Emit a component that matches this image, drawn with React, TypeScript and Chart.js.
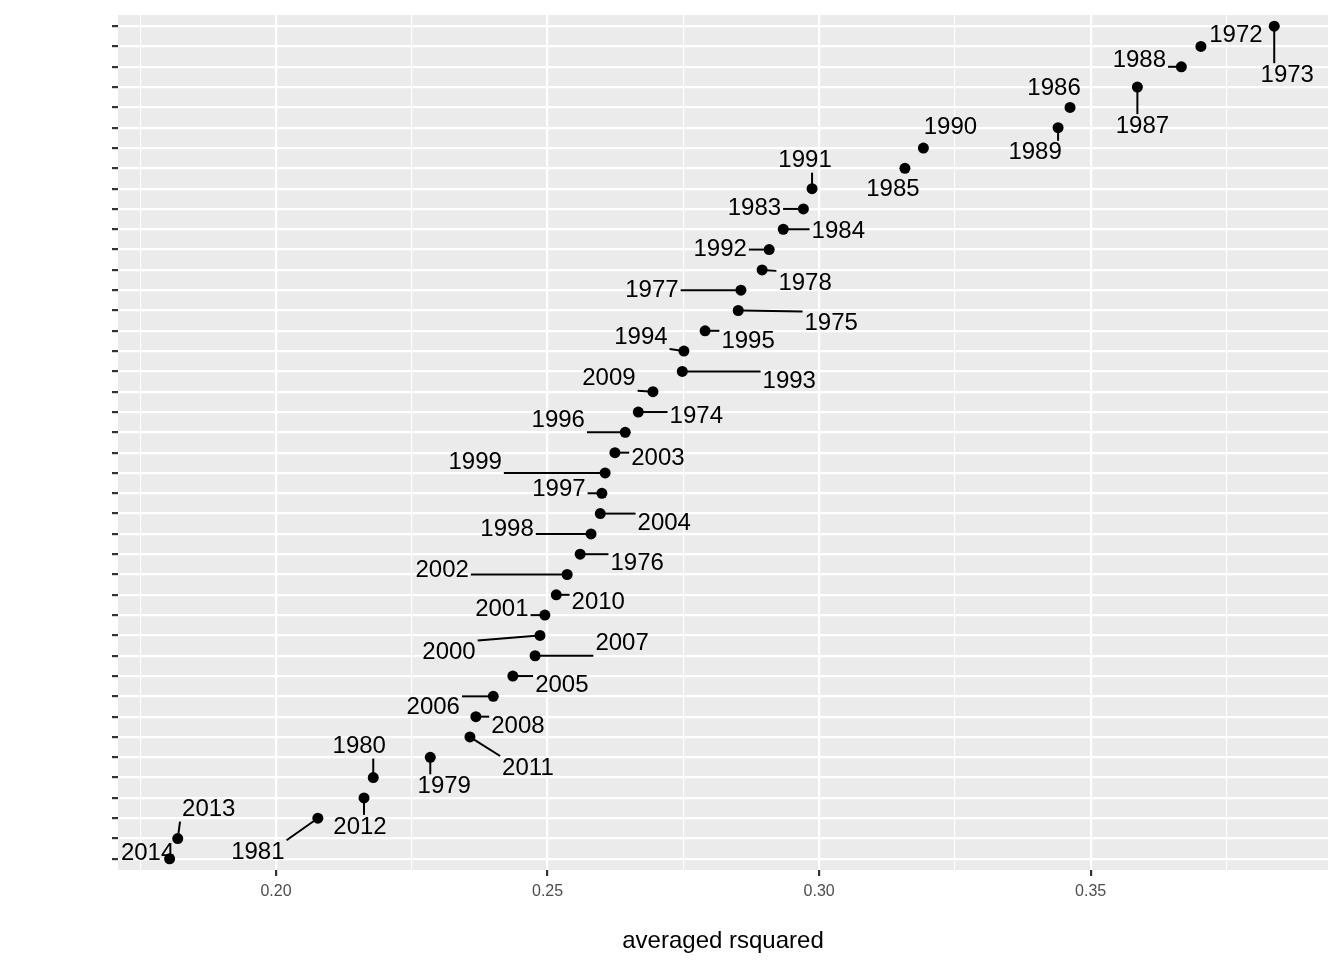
import React, { useRef, useEffect } from 'react';
import { Chart, registerables } from 'chart.js';

Chart.register(...registerables);

// top to bottom
const years = [
  '1973', '1972', '1988', '1987', '1986', '1989', '1990', '1985', '1991', '1983', '1984',
  '1992', '1978', '1977', '1975', '1995', '1994', '1993', '2009', '1974', '1996', '2003',
  '1999', '1997', '2004', '1998', '1976', '2002', '2010', '2001', '2000', '2007', '2005',
  '2006', '2008', '2011', '1979', '1980', '2012', '1981', '2013', '2014',
];
const rsquared = [
  0.3838, 0.3703, 0.3667, 0.3586, 0.3462, 0.344, 0.3192, 0.3158, 0.2987, 0.2971, 0.2934,
  0.2908, 0.2895, 0.2856, 0.2851, 0.279, 0.2751, 0.2748, 0.2694, 0.2667, 0.2643, 0.2624,
  0.2606, 0.26, 0.2597, 0.258, 0.256, 0.2536, 0.2516, 0.2495, 0.2486, 0.2477, 0.2436,
  0.24, 0.2368, 0.2357, 0.2284, 0.2179, 0.2162, 0.2077, 0.1819, 0.1804,
];
const xTicks = [0.175, 0.2, 0.225, 0.25, 0.275, 0.3, 0.325, 0.35, 0.375];
const xMajor = ['0.20', '0.25', '0.30', '0.35'];

// label placement (pixels from point), repel-style
const labelOffsets: [number, number][] = [
  [13, 49], [35, -11], [-42, -6], [5, 39], [-16, -19], [-23, 25], [27, -21], [-12, 21],
  [-7, -28], [-49, -1], [55, 2], [-49, 0], [43, 13], [-89, 0], [93, 13], [43, 11],
  [-43, -14], [107, 10], [-44, -13], [58, 4], [-67, -12], [43, 6], [-130, -11], [-43, -4],
  [64, 10], [-84, -5], [57, 9], [-125, -4], [42, 8], [-43, -6], [-91, 17], [87, -12],
  [49, 9], [-60, 11], [42, 10], [58, 31], [14, 29], [-14, -31], [-4, 29], [-60, 34],
  [31, -29], [-22, -5],
];

const n = years.length;

const labelPlugin = {
  id: 'repelLabels',
  afterDatasetsDraw(chart: any) {
    const ctx = chart.ctx;
    const meta = chart.getDatasetMeta(0);
    ctx.save();
    ctx.font = '24px "Liberation Sans", Arial, sans-serif';
    ctx.textAlign = 'center';
    ctx.textBaseline = 'middle';
    meta.data.forEach((pt: any, i: number) => {
      const [dx, dy] = labelOffsets[i];
      const cx = pt.x + dx;
      const cy = pt.y + dy;
      const w = ctx.measureText(years[i]).width / 2 + 2;
      const h = 12;
      const ex = Math.max(cx - w, Math.min(cx + w, pt.x));
      const ey = Math.max(cy - h, Math.min(cy + h, pt.y));
      const dist = Math.hypot(ex - pt.x, ey - pt.y);
      if (dist > 12) {
        const ux = (ex - pt.x) / dist;
        const uy = (ey - pt.y) / dist;
        ctx.strokeStyle = '#000';
        ctx.lineWidth = 2;
        ctx.beginPath();
        ctx.moveTo(pt.x + ux * 4, pt.y + uy * 4);
        ctx.lineTo(ex, ey);
        ctx.stroke();
      }
      ctx.fillStyle = '#000';
      ctx.fillText(years[i], cx, cy);
    });
    ctx.restore();
  },
};

const bgPlugin = {
  id: 'panelBg',
  beforeDraw(chart: any) {
    const { ctx, chartArea: a } = chart;
    ctx.save();
    ctx.fillStyle = '#EBEBEB';
    ctx.fillRect(a.left, a.top, a.right - a.left, a.bottom - a.top);
    ctx.restore();
  },
};

const App: React.FC = () => {
  const chartRef = useRef<HTMLCanvasElement>(null);

  useEffect(() => {
    if (!chartRef.current) return;
    const chart = new Chart(chartRef.current, {
      type: 'scatter',
      data: {
        datasets: [
          {
            data: rsquared.map((v, i) => ({ x: v, y: n - i })),
            backgroundColor: '#000',
            borderWidth: 0,
            pointRadius: 5.5,
          },
        ],
      },
      plugins: [bgPlugin, labelPlugin],
      options: {
        animation: false,
        responsive: false,
        layout: { padding: { top: 15, right: 16, left: 0, bottom: 0 } },
        plugins: { legend: { display: false }, tooltip: { enabled: false } },
        scales: {
          x: {
            type: 'linear',
            min: 0.1709,
            max: 0.3937,
            afterBuildTicks: (s: any) => {
              s.ticks = xTicks.map((v) => ({ value: v }));
            },
            afterFit: (s: any) => {
              s.height = 90;
            },
            border: { display: false },
            grid: {
              color: '#fff',
              lineWidth: (c: any) => (xMajor.includes(Number(c.tick?.value).toFixed(2)) && Math.round(c.tick.value * 1000) % 50 === 0 ? 2.2 : 1.1),
              tickColor: (c: any) => (Math.round(c.tick?.value * 1000) % 50 === 0 ? '#333' : 'rgba(0,0,0,0)'),
              tickLength: 6,
            },
            ticks: {
              color: '#4d4d4d',
              font: { size: 16, family: '"Liberation Sans", Arial, sans-serif' },
              padding: 6,
              autoSkip: false,
              maxRotation: 0,
              callback: (v: any) => (Math.round(Number(v) * 1000) % 50 === 0 ? Number(v).toFixed(2) : ''),
            },
            title: {
              display: true,
              text: 'averaged rsquared',
              color: '#000',
              font: { size: 24, family: '"Liberation Sans", Arial, sans-serif' },
              padding: { top: 4 },
            },
          },
          y: {
            type: 'linear',
            min: 0.45,
            max: n + 0.55,
            afterBuildTicks: (s: any) => {
              s.ticks = years.map((_, i) => ({ value: i + 1 }));
            },
            afterFit: (s: any) => {
              s.width = 118;
            },
            border: { display: false },
            grid: { color: '#fff', lineWidth: 2.2, tickColor: '#333', tickLength: 6 },
            ticks: { display: true, callback: () => '', padding: 0 },
          },
        },
      },
    });
    return () => chart.destroy();
  }, []);

  return (
    <div style={{ position: 'absolute', left: 0, top: 0, width: 1344, height: 960, background: '#fff' }}>
      <canvas ref={chartRef} width={1344} height={960} />
    </div>
  );
};

export default App;
